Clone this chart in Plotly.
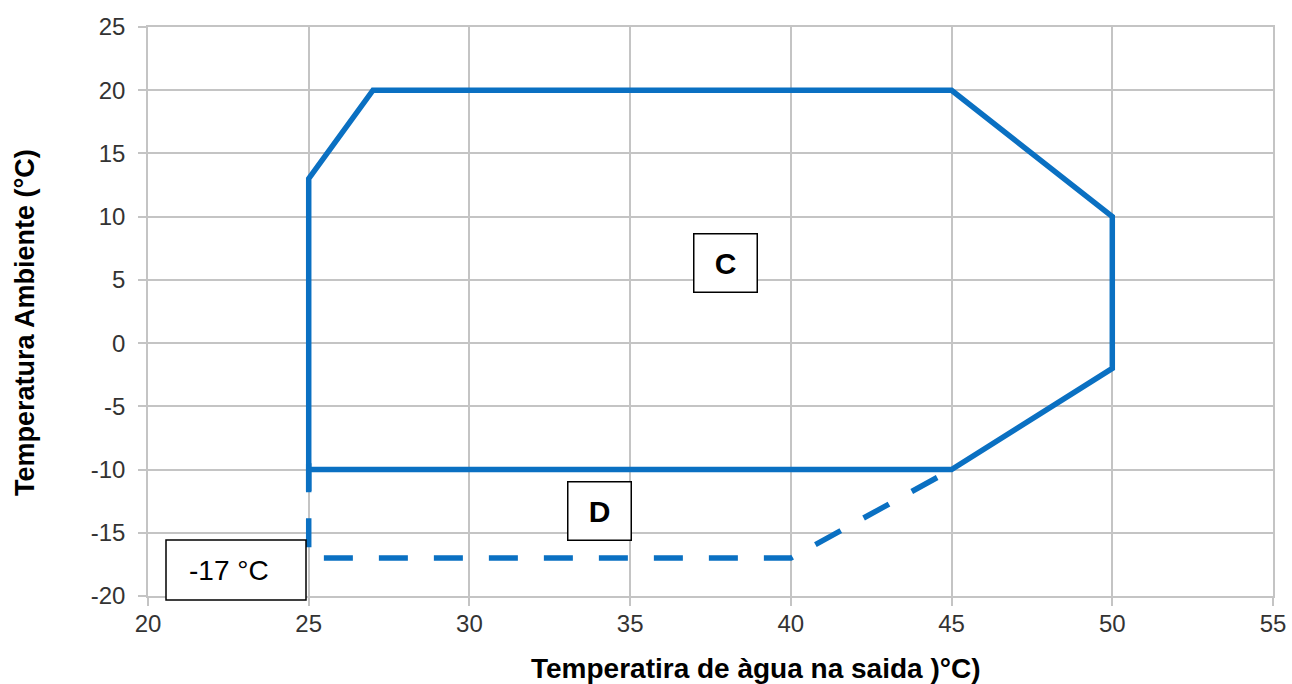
import plotly.graph_objects as go

# Operating envelope (solid) - zone C
solid_x = [25, 25, 25, 27, 45, 50, 50, 45, 25]
solid_y = [-11.7, -10, 13, 20, 20, 10, -2, -10, -10]

# Extended envelope (dashed) - zone D
dash_x = [25, 25, 40, 45]
dash_y = [-9.5, -17, -17, -10]

x_ticks = [20, 25, 30, 35, 40, 45, 50, 55]
y_ticks = [-20, -15, -10, -5, 0, 5, 10, 15, 20, 25]

BLUE = "#0A70C2"
GRID = "#C4C4C4"
W, H = 1292, 684
L, R, T, B = 148, 19, 27, 88
PW, PH = W - L - R, H - T - B

fig = go.Figure()
fig.add_trace(go.Scatter(x=dash_x, y=dash_y, mode="lines",
                         line=dict(color=BLUE, width=5.5, dash="29px,26px"),
                         showlegend=False, hoverinfo="skip"))
fig.add_trace(go.Scatter(x=solid_x, y=solid_y, mode="lines",
                         line=dict(color=BLUE, width=5.5),
                         showlegend=False, hoverinfo="skip"))

axis_common = dict(showgrid=True, gridcolor=GRID, gridwidth=1.5,
                   showline=True, linecolor=GRID, linewidth=1.5, mirror=True,
                   ticks="outside", ticklen=8, tickcolor=GRID, tickwidth=1.5,
                   zeroline=False, automargin=False,
                   tickfont=dict(family="Arial, Liberation Sans", size=24, color="#333333"))

fig.update_xaxes(range=[20, 55], tickvals=x_ticks, ticktext=[str(v) for v in x_ticks],
                 ticklabelstandoff=-3, **axis_common)
fig.update_yaxes(range=[-20, 25], tickvals=y_ticks, ticktext=[str(v) for v in y_ticks],
                 ticklabelstandoff=8, **axis_common)

ann_font = dict(family="Arial, Liberation Sans", color="black")
fig.add_annotation(x=37.97, y=6.33, xref="x", yref="y", text="<b>C</b>", showarrow=False,
                   font=dict(size=30, **ann_font), bordercolor="black", borderwidth=1.5,
                   bgcolor="white", width=62, height=57, borderpad=0)
fig.add_annotation(x=34.05, y=-13.29, xref="x", yref="y", text="<b>D</b>", showarrow=False,
                   font=dict(size=30, **ann_font), bordercolor="black", borderwidth=1.5,
                   bgcolor="white", width=62, height=57, borderpad=0)

# -17 °C label box (paper coordinates from pixel layout)
def px_x(p):
    return (p - L) / PW

def px_y(p):
    return (H - B - p) / PH

fig.add_shape(type="rect", xref="paper", yref="paper",
              x0=px_x(166), x1=px_x(306), y0=px_y(600), y1=px_y(540),
              line=dict(color="black", width=1.5), fillcolor="white", layer="above")
fig.add_annotation(xref="paper", yref="paper", x=px_x(187), y=px_y(570),
                   xanchor="left", yanchor="middle", text="-17 °C", showarrow=False,
                   font=dict(size=28, **ann_font))

# Axis titles
fig.add_annotation(xref="paper", yref="paper", x=px_x(755), y=px_y(668),
                   text="<b>Temperatira de àgua na saida )°C)</b>", showarrow=False,
                   font=dict(size=28, **ann_font), xanchor="center", yanchor="middle")
fig.add_annotation(xref="paper", yref="paper", x=px_x(25), y=px_y(323),
                   text="<b>Temperatura Ambiente (°C)</b>", showarrow=False, textangle=-90,
                   font=dict(size=27, **ann_font), xanchor="center", yanchor="middle")

fig.update_layout(width=W, height=H, margin=dict(l=L, r=R, t=T, b=B),
                  plot_bgcolor="white", paper_bgcolor="white")

fig.write_html("out.html", config={"displayModeBar": False},
               post_script="document.body.style.margin='0';document.body.style.overflow='hidden';")
